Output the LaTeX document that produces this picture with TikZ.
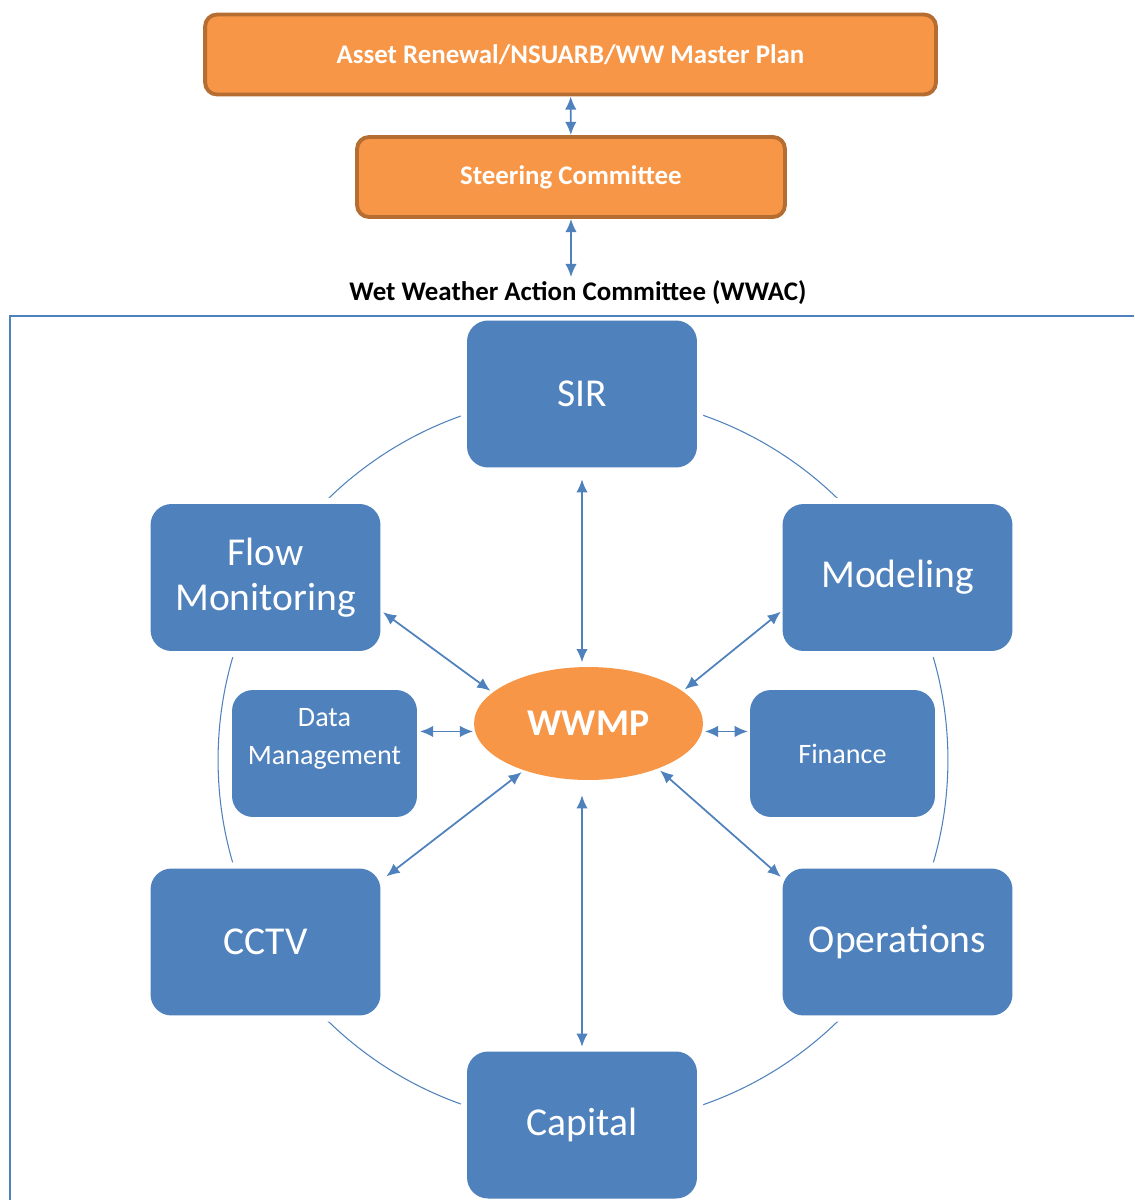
\documentclass[tikz,border=0pt]{standalone}
\usepackage{fontspec}
\setmainfont{Carlito}
\usepackage{xcolor}
\usepackage{tikz}
\usetikzlibrary{positioning,arrows.meta,shapes.geometric}
\definecolor{accblue}{HTML}{4F81BD}
\definecolor{accorange}{HTML}{F79646}
\definecolor{accbrown}{HTML}{B66D31}

\begin{document}
\begin{tikzpicture}[x=0.02cm,y=-0.02cm,
 mgmt/.style={draw=accbrown,line width=2.2pt,fill=accorange,rounded corners=0.24cm,text=white,
   font=\bfseries\fontsize{15.3}{18}\selectfont,minimum height=1.6cm,inner sep=0pt},
 team/.style={fill=accblue,rounded corners=0.42cm,text=white,align=center,minimum width=4.6cm,
   minimum height=2.94cm,inner sep=0pt,font=\fontsize{22.5}{25.5}\selectfont,
   preaction={draw=white,line width=7pt}},
 subteam/.style={team,minimum width=3.7cm,minimum height=2.54cm,font=\fontsize{16}{21.5}\selectfont},
 hub/.style={ellipse,fill=accorange,minimum width=4.58cm,minimum height=2.26cm,inner sep=0pt,
   text=white,font=\bfseries\fontsize{21.5}{24}\selectfont},
 arr/.style={{Latex[length=7.5pt,width=6.5pt]}-{Latex[length=7.5pt,width=6.5pt]},draw=accblue,line width=1pt}]
\useasboundingbox (0,0) rectangle (1134,1200);
% ring behind the teams
\draw[accblue,line width=0.6pt] (583,760) circle [radius=7.3cm];
% management chain
\node[mgmt,minimum width=14.62cm] (plan) at (570.5,54.5) {Asset Renewal/NSUARB/WW Master Plan};
\node[mgmt,minimum width=8.56cm] (steer) at (571,177) {Steering Committee};
\node[font=\bfseries\fontsize{15.3}{18}\selectfont,inner sep=0pt] (wwac) at (578,293) {Wet Weather Action Committee (WWAC)};
% teams
\node[team] (sir) at (582,394) {SIR};
\node[team] (flow) at (265.5,577.5) {Flow\\Monitoring};
\node[team] (model) at (897.5,577.5) {Modeling};
\node[subteam,text depth=19pt] (data) at (324.5,753.5) {Data\\Management};
\node[subteam] (fin) at (842.5,753.5) {Finance};
\node[team] (cctv) at (265.5,942) {CCTV};
\node[team] (ops) at (897.5,942) {Operations};
\node[team] (cap) at (582,1125) {Capital};
\node[hub] (wwmp) at (588.5,723.5) {WWMP};
% committee frame
\draw[accblue,line width=0.9pt] (1134,316) -- (10,316) -- (10,1200);
% links
\draw[arr] (plan) -- (steer);
\draw[arr,shorten >=2pt] (steer) -- (steer.south |- wwac.north);
\draw[arr,shorten <=6.5pt,shorten >=2.5pt] (sir.south) -- (sir.south |- wwmp.north);
\draw[arr,shorten <=2.5pt,shorten >=8.5pt] (cap.north) -- (cap.north |- wwmp.south);
\draw[arr,shorten <=1.5pt,shorten >=1.5pt] (flow.-16) -- (wwmp.162);
\draw[arr,shorten <=1pt,shorten >=1.5pt] (model.196) -- (wwmp.19);
\draw[arr,shorten <=4pt,shorten >=1.5pt] (cctv.28) -- (wwmp.216);
\draw[arr,shorten <=1pt,shorten >=1.5pt] (ops.151) -- (wwmp.327);
\draw[arr,shorten <=1pt,shorten >=1.5pt] (wwmp.184) -- (data.east |- wwmp.184);
\draw[arr,shorten <=1.5pt,shorten >=1pt] (wwmp.-4) -- (fin.west |- wwmp.-4);
\end{tikzpicture}
\end{document}
